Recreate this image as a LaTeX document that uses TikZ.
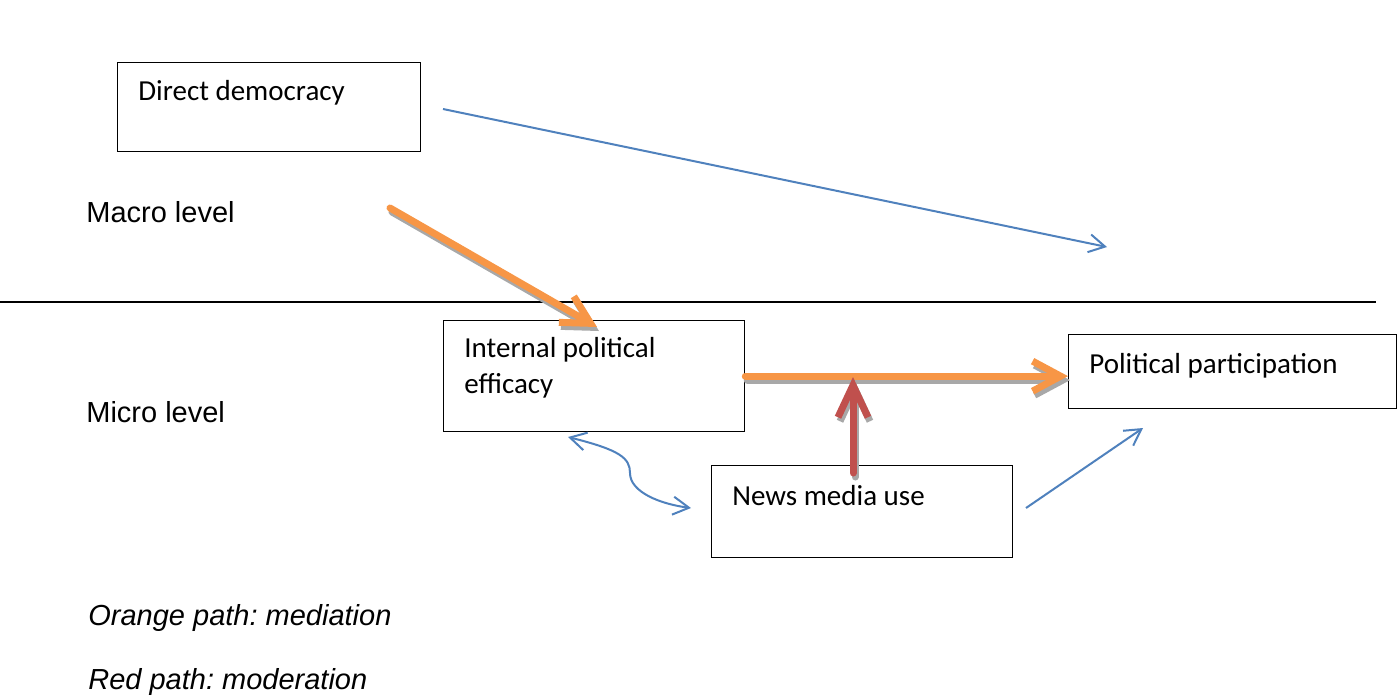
\documentclass[tikz,border=0pt]{standalone}
\usepackage{fontspec}
\setmainfont{Liberation Sans}
\newfontfamily\calibri{Carlito}
\usetikzlibrary{arrows.meta,calc}
\definecolor{officeblue}{HTML}{4F81BD}
\definecolor{officeorange}{HTML}{F79646}
\definecolor{officered}{HTML}{C0504D}
\definecolor{shadowgrey}{HTML}{A8A8A8}
\frenchspacing

\begin{document}
\begin{tikzpicture}[
  x=0.5pt, y=-0.5pt,
  box/.style={draw=black, line width=0.65pt, anchor=north west, inner sep=0pt},
  boxtext/.style={anchor=base west, inner sep=0pt, align=left, font=\calibri\fontsize{14.5}{18}\selectfont},
  level/.style={anchor=base west, inner sep=0pt, font=\fontsize{14.5}{17}\selectfont},
  note/.style={anchor=base west, inner sep=0pt, font=\fontsize{14.5}{17}\selectfont\itshape},
  blueline/.style={officeblue, line width=1pt, -{Straight Barb[length=8pt,width=9pt]}},
  bluetwo/.style={officeblue, line width=1pt, {Straight Barb[length=8pt,width=9pt]}-{Straight Barb[length=8pt,width=9pt]}},
  fat/.style={line width=3.5pt, line cap=round, line join=round, -{Straight Barb[length=14pt,width=15pt]}},
  fatred/.style={fat, -{Straight Barb[length=16pt,width=15pt]}},
  dropshade/.style={draw=shadowgrey, transform canvas={shift={(1pt,-2pt)}}}
]
\useasboundingbox (0,0) rectangle (1398,698);

% levels
\draw[line width=1pt] (0,302) -- (1376,302);
\node[level] (macro) at (86,222) {Macro level};
\node[level] (micro) at (86,422) {Micro level};

% boxes
\node[box, minimum width=151.5pt, minimum height=44.5pt] (dd) at (117,62) {};
\node[boxtext] (ddtext) at (138,100) {Direct democracy};
\node[box, minimum width=150.5pt, minimum height=55.5pt] (ipe) at (443,320) {};
\node[boxtext] (ipetext) at (464,393) {Internal political\\efficacy};
\node[box, minimum width=164pt, minimum height=37pt] (pp) at (1068,334) {};
\node[boxtext] (pptext) at (1089,373) {Political participation};
\node[box, minimum width=150.5pt, minimum height=46pt] (nmu) at (711,465) {};
\node[boxtext] (nmutext) at (732,505) {News media use};

% free ends
\coordinate (ddout) at (443,109);
\coordinate (ppin) at (1107,247);
\coordinate (macroout) at (390,208);
\coordinate (ipein) at (597,327);
\coordinate (nmuout) at (853,473);
\coordinate (modpt) at (853,377);
\coordinate (ipelow) at (568,437);
\coordinate (nmuleft) at (691,508);
\coordinate (nmuright) at (1026,508);
\coordinate (pplow) at (1143,428);

% direct effect
\draw[blueline] (ddout) -- (ppin);

% mediation
\draw[fat, dropshade] (macroout) -- (ipein);
\draw[fat, officeorange] (macroout) -- (ipein);
\draw[fat, dropshade] (ipe.east) -- (ipe.east -| pp.west);
\draw[fat, officeorange] (ipe.east) -- (ipe.east -| pp.west);

% moderation
\draw[fatred, dropshade] (nmuout) -- (modpt);
\draw[fatred, officered] (nmuout) -- (modpt);

% news media use
\draw[bluetwo] (ipelow) .. controls (620,450) and (630,458) .. (630,473)
  .. controls (630,492) and (660,504) .. (nmuleft);
\draw[blueline] (nmuright) -- (pplow);

% legend
\node[note] (medlbl) at (88,625) {Orange path: mediation};
\node[note] (modlbl) at (88,689) {Red path: moderation};
\end{tikzpicture}
\end{document}
